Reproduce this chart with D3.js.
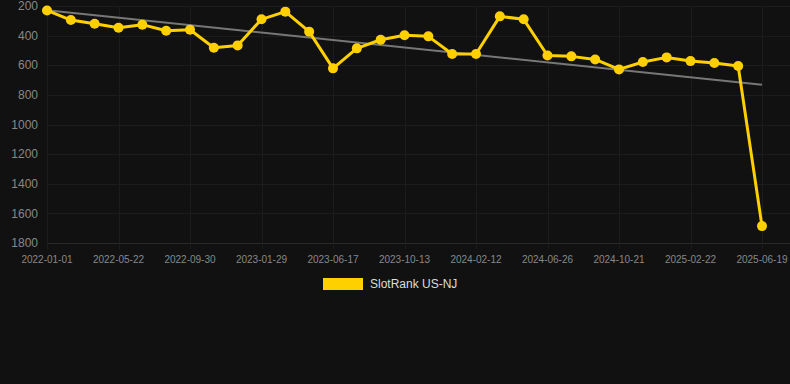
<!DOCTYPE html>
<html>
<head>
<meta charset="utf-8">
<script src="https://cdn.jsdelivr.net/npm/d3@7"></script>
<style>
  html, body { margin: 0; padding: 0; background: #111111; }
  svg { display: block; font-family: "Liberation Sans", Arial, sans-serif; }
</style>
</head>
<body>
<svg id="chart" width="790" height="384"></svg>
<script>
// every third date is shown on the axis
var tick_labels = ["2022-01-01", "2022-05-22", "2022-09-30", "2023-01-29", "2023-06-17", "2023-10-13",
                   "2024-02-12", "2024-06-26", "2024-10-21", "2025-02-22", "2025-06-19"]
var dates = ["2022-01-01", "2022-02-17", "2022-04-05", "2022-05-22", "2022-07-05", "2022-08-17",
             "2022-09-30", "2022-11-09", "2022-12-20", "2023-01-29", "2023-03-16", "2023-05-01",
             "2023-06-17", "2023-07-26", "2023-09-03", "2023-10-13", "2023-11-23", "2024-01-02",
             "2024-02-12", "2024-03-28", "2024-05-12", "2024-06-26", "2024-08-04", "2024-09-12",
             "2024-10-21", "2024-12-01", "2025-01-12", "2025-02-22", "2025-04-01", "2025-05-10",
             "2025-06-19"]
var rank_values = [230, 295, 320, 347, 326, 367, 360, 482, 466, 290, 238, 373, 621, 486, 428, 398,
                   405, 524, 524, 270, 290, 534, 540, 561, 628, 578, 547, 572, 585, 605, 1686]
var y_ticks = [200, 400, 600, 800, 1000, 1200, 1400, 1600, 1800]
var series_name = "SlotRank US-NJ"

var line_color = "#ffd000"
var grid_color = "#1c1c1c"
var label_color = "#888888"

var svg = d3.select("#chart")
var plot_left = 47, plot_right = 762, plot_top = 6, plot_bottom = 243

var x = d3.scalePoint().domain(dates).range([plot_left, plot_right])
var y = d3.scaleLinear().domain([200, 1800]).range([plot_top, plot_bottom])

// grid
var grid = svg.append("g")
grid.selectAll("line.h").data(y_ticks).enter().append("line")
    .attr("x1", plot_left).attr("x2", 790)
    .attr("y1", function(d){ return Math.round(y(d)) + 0.5 })
    .attr("y2", function(d){ return Math.round(y(d)) + 0.5 })
    .attr("stroke", function(d){ return d == 1800 ? "#2a2a2a" : grid_color })
    .attr("stroke-width", 1)
grid.selectAll("line.v").data(tick_labels).enter().append("line")
    .attr("x1", function(d){ return Math.round(x(d)) + 0.5 })
    .attr("x2", function(d){ return Math.round(x(d)) + 0.5 })
    .attr("y1", plot_top).attr("y2", plot_bottom + 6)
    .attr("stroke", grid_color)

// y labels
svg.append("g").selectAll("text").data(y_ticks).enter().append("text")
    .attr("x", 38)
    .attr("y", function(d){ return y(d) })
    .attr("dy", "0.35em")
    .attr("text-anchor", "end")
    .attr("fill", label_color)
    .attr("font-size", 12)
    .text(function(d){ return d })

// x labels
svg.append("g").selectAll("text").data(tick_labels).enter().append("text")
    .attr("x", function(d){ return x(d) })
    .attr("y", 259)
    .attr("dy", "0.35em")
    .attr("text-anchor", "middle")
    .attr("fill", label_color)
    .attr("font-size", 10)
    .text(function(d){ return d })

// trend line (least squares over the points)
var n = rank_values.length
var mean_i = d3.mean(rank_values, function(d, i){ return i })
var mean_v = d3.mean(rank_values)
var sxy = 0, sxx = 0
for (var i = 0; i < n; i++) {
    sxy += (i - mean_i) * (rank_values[i] - mean_v)
    sxx += (i - mean_i) * (i - mean_i)
}
var slope = sxy / sxx
var inter = mean_v - slope * mean_i
svg.append("line")
    .attr("x1", x(dates[0])).attr("y1", y(inter))
    .attr("x2", x(dates[n - 1])).attr("y2", y(inter + slope * (n - 1)))
    .attr("stroke", "#777777")
    .attr("stroke-width", 2)

// series
var pts = dates.map(function(d, i){ return {date: d, value: rank_values[i]} })
svg.append("path")
    .datum(pts)
    .attr("fill", "none")
    .attr("stroke", line_color)
    .attr("stroke-width", 3)
    .attr("stroke-linejoin", "round")
    .attr("d", d3.line().x(function(d){ return x(d.date) }).y(function(d){ return y(d.value) }))

svg.append("g").selectAll("circle").data(pts).enter().append("circle")
    .attr("cx", function(d){ return x(d.date) })
    .attr("cy", function(d){ return y(d.value) })
    .attr("r", 5)
    .attr("fill", line_color)

// legend
var legend = svg.append("g")
legend.append("rect")
    .attr("x", 323).attr("y", 278)
    .attr("width", 40).attr("height", 12)
    .attr("fill", line_color)
legend.append("text")
    .attr("x", 370).attr("y", 284)
    .attr("dy", "0.35em")
    .attr("fill", "#dddddd")
    .attr("font-size", 12)
    .text(series_name)
</script>
</body>
</html>
